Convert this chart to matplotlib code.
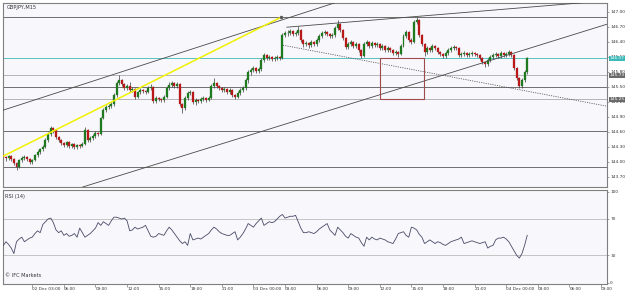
import matplotlib
matplotlib.use("Agg")
import matplotlib.pyplot as plt
import matplotlib.transforms as mtransforms

# ---------------- data ----------------
symbol_title = "GBPJPY,M15"
first_open = 144.11
closes = [
 144.09,144.07,144.11,144.05,143.97,143.89,144.03,144.07,144.09,144.05,
 143.99,144.03,144.13,144.19,144.25,144.29,144.43,144.55,144.67,144.63,
 144.49,144.43,144.37,144.33,144.39,144.31,144.35,144.29,144.33,144.31,
 144.35,144.63,144.43,144.47,144.51,144.57,144.55,144.87,145.03,145.09,
 145.11,145.15,145.33,145.57,145.63,145.55,145.47,145.51,145.43,145.45,
 145.29,145.39,145.43,145.41,145.39,145.47,145.49,145.21,145.27,145.25,
 145.23,145.29,145.47,145.53,145.57,145.51,145.55,145.15,145.07,145.27,
 145.37,145.39,145.19,145.23,145.21,145.25,145.27,145.23,145.27,145.51,
 145.57,145.51,145.47,145.43,145.45,145.39,145.43,145.33,145.29,145.37,
 145.43,145.47,145.63,145.79,145.83,145.87,145.81,145.85,146.03,146.13,
 146.07,146.09,146.05,146.07,146.09,146.07,146.53,146.57,146.57,146.61,
 146.55,146.57,146.63,146.43,146.35,146.37,146.33,146.39,146.35,146.43,
 146.51,146.57,146.59,146.55,146.51,146.53,146.67,146.75,146.63,146.47,
 146.29,146.35,146.39,146.31,146.35,146.23,146.11,146.35,146.39,146.31,
 146.37,146.33,146.35,146.27,146.31,146.23,146.27,146.23,146.17,146.19,
 146.15,146.31,146.51,146.59,146.43,146.39,146.79,146.83,146.53,146.35,
 146.19,146.27,146.23,146.31,146.27,146.19,146.15,146.11,146.17,146.23,
 146.27,146.29,146.27,146.13,146.15,146.17,146.13,146.15,146.17,146.15,
 146.13,146.07,145.99,145.95,146.03,146.09,146.13,146.15,146.11,146.17,
 146.13,146.15,146.19,146.13,145.87,145.67,145.51,145.63,145.79,146.07,
]
highs = [
 144.15,144.12,144.14,144.13,144.08,144.00,144.06,144.11,144.14,144.12,
 144.07,144.06,144.16,144.23,144.28,144.33,144.47,144.60,144.72,144.70,
 144.66,144.52,144.46,144.40,144.42,144.42,144.38,144.37,144.36,144.36,
 144.39,144.69,144.65,144.51,144.55,144.61,144.60,144.90,145.08,145.14,
 145.16,145.20,145.37,145.61,145.73,145.66,145.58,145.56,145.60,145.49,
 145.48,145.42,145.47,145.46,145.44,145.52,145.55,145.51,145.31,145.30,
 145.28,145.33,145.52,145.60,145.62,145.60,145.59,145.57,145.18,145.31,
 145.41,145.44,145.41,145.27,145.26,145.29,145.31,145.30,145.32,145.56,
 145.67,145.60,145.54,145.50,145.49,145.48,145.47,145.45,145.36,145.41,
 145.47,145.51,145.67,145.83,145.88,145.91,145.90,145.89,146.08,146.18,
 146.16,146.13,146.12,146.11,146.13,146.12,146.57,146.62,146.63,146.66,
 146.64,146.62,146.71,146.65,146.46,146.42,146.40,146.43,146.42,146.47,
 146.55,146.62,146.64,146.62,146.58,146.57,146.72,146.83,146.78,146.66,
 146.50,146.40,146.44,146.42,146.39,146.38,146.26,146.40,146.44,146.42,
 146.41,146.40,146.39,146.38,146.35,146.34,146.31,146.30,146.26,146.23,
 146.22,146.35,146.55,146.64,146.62,146.47,146.83,146.89,146.86,146.56,
 146.38,146.31,146.30,146.35,146.34,146.30,146.22,146.18,146.21,146.27,
 146.31,146.33,146.32,146.30,146.19,146.21,146.20,146.19,146.21,146.20,
 146.18,146.16,146.10,146.02,146.07,146.13,146.17,146.19,146.18,146.21,
 146.20,146.19,146.23,146.22,146.16,145.90,145.70,145.67,145.83,146.10,
]
lows = [
 144.05,144.02,144.04,144.01,143.93,143.83,143.87,144.00,144.04,144.02,
 143.95,143.96,144.01,144.10,144.16,144.21,144.27,144.40,144.52,144.58,
 144.45,144.39,144.34,144.30,144.30,144.28,144.27,144.25,144.26,144.27,
 144.29,144.33,144.40,144.39,144.44,144.48,144.51,144.53,144.85,145.00,
 145.05,145.07,145.12,145.30,145.54,145.52,145.43,145.44,145.40,145.40,
 145.25,145.27,145.36,145.37,145.35,145.37,145.44,145.18,145.17,145.21,
 145.19,145.20,145.27,145.44,145.50,145.48,145.48,145.11,144.97,145.04,
 145.24,145.34,145.16,145.14,145.17,145.18,145.22,145.20,145.21,145.25,
 145.48,145.47,145.44,145.40,145.40,145.36,145.36,145.30,145.25,145.27,
 145.34,145.40,145.44,145.58,145.74,145.79,145.77,145.78,145.82,146.00,
 146.03,146.04,146.01,146.02,146.04,146.03,146.05,146.49,146.52,146.54,
 146.51,146.52,146.54,146.40,146.30,146.32,146.28,146.30,146.31,146.32,
 146.40,146.48,146.53,146.51,146.47,146.48,146.50,146.63,146.60,146.43,
 146.25,146.26,146.32,146.27,146.28,146.19,146.07,146.09,146.32,146.27,
 146.28,146.29,146.30,146.23,146.24,146.19,146.20,146.19,146.13,146.14,
 146.10,146.13,146.29,146.48,146.40,146.35,146.37,146.75,146.50,146.31,
 146.11,146.16,146.19,146.20,146.23,146.16,146.12,146.07,146.08,146.14,
 146.20,146.24,146.23,146.10,146.10,146.12,146.09,146.10,146.12,146.11,
 146.09,146.03,145.95,145.90,145.92,146.00,146.06,146.10,146.07,146.08,
 146.09,146.10,146.12,146.09,145.84,145.63,145.47,145.48,145.60,145.76,
]
rsi_values = [
 41,45,42,38,32,45,48,50,45,47,49,50,54,57,55,64,67,70,71,66,
 58,55,57,52,54,51,52,54,50,60,55,50,52,54,57,60,66,63,67,65,
 63,68,72,72,71,70,71,68,57,58,61,59,60,61,63,57,51,50,51,54,
 53,52,57,61,58,54,50,46,43,45,41,54,47,48,49,48,50,52,54,58,
 61,59,56,54,53,52,52,54,56,47,50,54,59,65,63,61,65,68,71,63,
 65,67,66,67,70,73,75,71,72,73,73,74,67,60,55,55,56,55,54,56,
 59,61,63,65,58,55,52,61,58,55,51,49,54,52,50,49,44,40,50,47,
 50,48,47,49,48,47,45,44,43,48,54,55,56,52,50,61,60,58,53,50,
 43,45,47,45,43,45,44,42,41,43,45,46,47,48,50,43,44,45,46,45,
 44,43,44,45,38,40,41,47,49,49,50,48,45,40,35,30,27,32,41,52,
]
time_labels = ["02 Dec 03:00", "06:00", "09:00", "12:00", "15:00", "18:00", "21:00",
               "03 Dec 00:00", "03:00", "06:00", "09:00", "12:00", "15:00", "18:00", "21:00",
               "04 Dec 00:00", "03:00", "06:00", "09:00"]
price_ticks = [147.00, 146.70, 146.40, 146.10, 145.80, 145.50, 145.20,
               144.90, 144.60, 144.30, 144.00, 143.70]
hlines_dark = [146.89, 145.49, 144.61, 143.90]
hlines_light = [145.73, 145.25]
bid_price = 146.07
boxed_levels = [145.73, 145.25]
rsi_levels = [70, 30]
rsi_ticks = [100, 70, 30, 0]

# drawn objects (in index / price coordinates)
channel_upper = ((-0.13, 145.03), (129.0, 147.23))
channel_lower = ((29.9, 143.49), (229.3, 146.75))
yellow_line = ((-0.13, 144.11), (105.5, 146.89))
top_line = ((107.7, 146.69), (229.3, 147.22))
dotted_line = ((106.2, 146.33), (229.3, 145.11))
rect_box = (143.0, 145.25, 159.8, 146.07)

# ---------------- figure ----------------
W, H = 625, 292
fig = plt.figure(figsize=(W / 100, H / 100), dpi=100)
fig.patch.set_facecolor("white")

def rect(x0, y0, x1, y1):
    return [x0 / W, 1 - y1 / H, (x1 - x0) / W, (y1 - y0) / H]

panel_bg = "#f7f7fc"
spine_c = "#7f7f7f"
fs = 3.6
fs_r = 3.1

ax = fig.add_axes(rect(3, 3, 607, 187))
ax2 = fig.add_axes(rect(3, 190, 607, 284))
for a in (ax, ax2):
    a.set_facecolor(panel_bg)
    for s in a.spines.values():
        s.set_color(spine_c)
        s.set_linewidth(0.8)

n = len(closes)
opens = [first_open] + closes[:-1]
idx = list(range(n))
xmin, xmax = -0.13, 229.3

# horizontal lines
for p in hlines_dark:
    ax.axhline(p, color="#6e6e6e", lw=0.7, zorder=1)
for p in hlines_light:
    ax.axhline(p, color="#b4b4b4", lw=0.7, zorder=1)
ax.axhline(bid_price, color="#56c2c2", lw=0.7, zorder=1)

# candles
up_c, dn_c = "#1f7a1f", "#b81818"
ax.vlines(idx, lows, highs, color="#3a3a3a", lw=0.5, zorder=2)
for i in idx:
    o, c = opens[i], closes[i]
    col = up_c if c >= o else dn_c
    h = max(abs(c - o), 0.008)
    ax.bar(i, h, bottom=min(o, c), width=0.75, color=col, edgecolor=col,
           linewidth=0.2, zorder=3)

# trend lines
ax.axline(channel_upper[0], channel_upper[1], color="#4a4a4a", lw=0.6, zorder=4)
ax.axline(channel_lower[0], channel_lower[1], color="#4a4a4a", lw=0.6, zorder=4)
ax.plot([yellow_line[0][0], yellow_line[1][0]], [yellow_line[0][1], yellow_line[1][1]],
        color="#f2f200", lw=1.1, zorder=4, solid_capstyle="butt")
ax.plot([yellow_line[1][0]], [yellow_line[1][1]], marker="o", ms=1.5, color="#5a5a5a", zorder=5)
ax.plot([top_line[0][0], top_line[1][0]], [top_line[0][1], top_line[1][1]],
        color="#4a4a4a", lw=0.6, zorder=4)
ax.plot([dotted_line[0][0], dotted_line[1][0]], [dotted_line[0][1], dotted_line[1][1]],
        color="#505050", lw=0.55, ls=(0, (1.5, 1.5)), zorder=4)
rx0, ry0, rx1, ry1 = rect_box
ax.add_patch(plt.Rectangle((rx0, ry0), rx1 - rx0, ry1 - ry0, fill=False,
                           edgecolor="#a04a4a", lw=0.8, zorder=4))

ax.set_xlim(xmin, xmax)
ax.set_ylim(143.494, 147.174)

# right axis of price
ax.yaxis.tick_right()
ax.set_yticks(price_ticks)
ax.set_yticklabels([f"{p:.2f}" for p in price_ticks])
ax.tick_params(axis="y", labelsize=fs_r, length=1.5, width=0.5, color=spine_c,
               pad=0.8, labelcolor="#333333")
ax.set_xticks([])

trans = mtransforms.blended_transform_factory(ax.transAxes, ax.transData)
ax.text(1.004, bid_price, f"{bid_price:.2f}", transform=trans, fontsize=fs_r,
        color="white", va="center", ha="left", zorder=10,
        bbox=dict(boxstyle="square,pad=0.12", fc="#3cb8b8", ec="none"))
for p in boxed_levels:
    ax.text(1.004, p, f"{p:.2f}", transform=trans, fontsize=fs_r,
            color="white", va="center", ha="left", zorder=10,
            bbox=dict(boxstyle="square,pad=0.12", fc="#6a6a6a", ec="none"))

ax.text(0.006, 147.08, symbol_title, fontsize=fs, color="#333333",
        va="center", ha="left", transform=trans)

# RSI panel
for lv in rsi_levels:
    ax2.axhline(lv, color="#c4c4c4", lw=0.7, zorder=1)
ax2.plot(range(len(rsi_values)), rsi_values, color="#4a4a66", lw=0.6, zorder=3)
ax2.set_xlim(xmin, xmax)
ax2.set_ylim(-1.5, 101.9)
ax2.yaxis.tick_right()
ax2.set_yticks(rsi_ticks)
ax2.set_yticklabels([str(v) for v in rsi_ticks])
ax2.tick_params(axis="y", labelsize=fs_r, length=1.5, width=0.5, color=spine_c,
                pad=0.8, labelcolor="#333333")
tick_pos = [11 + 12 * k for k in range(len(time_labels))]
ax2.set_xticks(tick_pos)
ax2.set_xticklabels(time_labels)
ax2.tick_params(axis="x", labelsize=fs_r, length=2, width=0.5, color=spine_c,
                pad=0.3, labelcolor="#333333")
for lab in ax2.get_xticklabels():
    lab.set_ha("left")
ax2.text(0.004, 0.96, "RSI (14)", transform=ax2.transAxes, fontsize=fs,
         color="#333333", va="top", ha="left")
ax2.text(0.004, 0.06, "© IFC Markets", transform=ax2.transAxes, fontsize=fs,
         color="#333333", va="bottom", ha="left")

fig.savefig("out.png", dpi=100, facecolor="white")
